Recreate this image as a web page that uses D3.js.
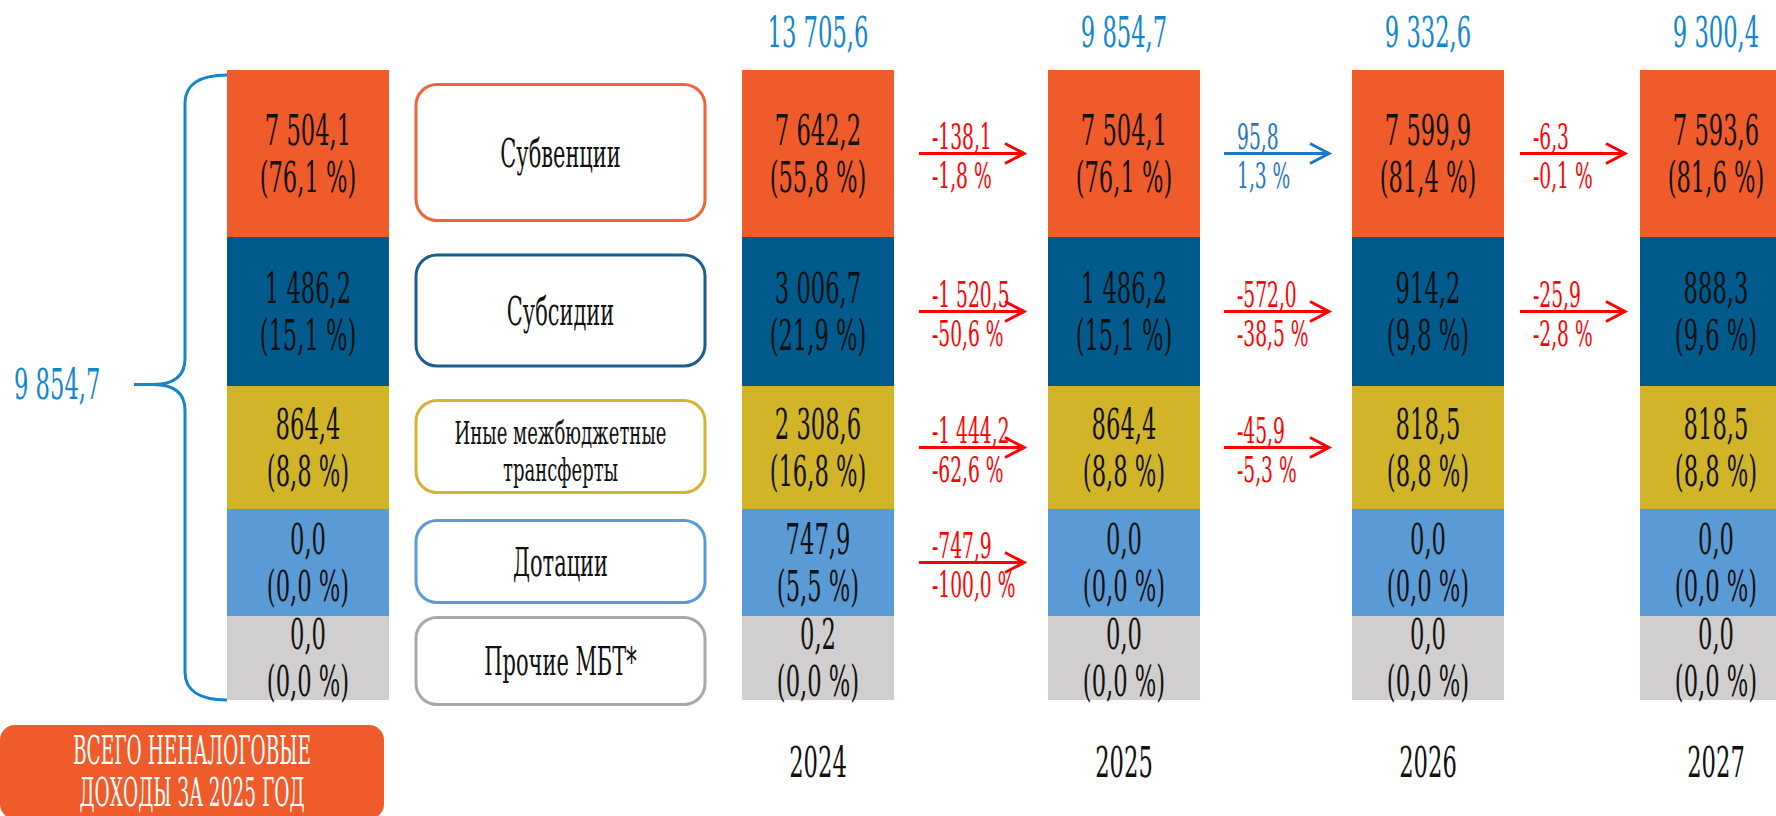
<!DOCTYPE html>
<html lang="ru">
<head>
<meta charset="utf-8">
<title>Межбюджетные трансферты</title>
<script src="https://cdn.jsdelivr.net/npm/d3@7"></script>
<style>
  html, body { margin: 0; padding: 0; background: #fff; overflow: hidden; }
  svg { display: block; }
  text { font-family: "DejaVu Serif Condensed", "DejaVu Serif", serif; font-stretch: condensed; }
</style>
</head>
<body>
<svg id="chart"></svg>
<script>
// ---- data ----
const years = ["2024", "2025", "2026", "2027"];
const categories = ["Субвенции", "Субсидии", "Иные межбюджетные трансферты", "Дотации", "Прочие МБТ*"];
const totals = [13705.6, 9854.7, 9332.6, 9300.4];

const subvencii = [7642.2, 7504.1, 7599.9, 7593.6];
const subsidii = [3006.7, 1486.2, 914.2, 888.3];
const inye = [2308.6, 864.4, 818.5, 818.5];
const dotacii = [747.9, 0.0, 0.0, 0.0];
const prochie = [0.2, 0.0, 0.0, 0.0];

const subvShare = [55.8, 76.1, 81.4, 81.6];
const subsShare = [21.9, 15.1, 9.8, 9.6];
const inyeShare = [16.8, 8.8, 8.8, 8.8];
const dotShare = [5.5, 0.0, 0.0, 0.0];
const prochShare = [0.0, 0.0, 0.0, 0.0];

// year-to-year changes, one list per step, in category order
const changeAbs = [[-138.1, -1520.5, -1444.2, -747.9], [95.8, -572.0, -45.9], [-6.3, -25.9]];
const changePct = [[-1.8, -50.6, -62.6, -100.0], [1.3, -38.5, -5.3], [-0.1, -2.8]];

const summaryYear = "2025";
const boxLines = [["Субвенции"], ["Субсидии"], ["Иные межбюджетные", "трансферты"], ["Дотации"], ["Прочие МБТ*"]];
const badgeLines = ["ВСЕГО НЕНАЛОГОВЫЕ", "ДОХОДЫ ЗА 2025 ГОД"];

// ---- layout ----
const W = 1776, H = 816;
const fills = ["#ef5b2a", "#005a8c", "#d2b428", "#5b9bd5", "#d0cece"];
const strokes = ["#f0643a", "#1b5e8a", "#d3b32f", "#5b9bd5", "#a8a8a8"];
const blueText = "#1487cb", upColor = "#1f78c1", downColor = "#ff0000";
const rowWeights = [167, 149, 123, 107, 84];
const boxH = [136, 111, 92, 82, 87];
const barLefts = [742, 1048, 1352, 1640];
const barW = 152;

const series = [subvencii, subsidii, inye, dotacii, prochie];
const shares = [subvShare, subsShare, inyeShare, dotShare, prochShare];

const ru = d3.formatLocale({ decimal: ",", thousands: " ", grouping: [3], currency: ["", ""], minus: "-" });
const fmt = ru.format(",.1f");

const svg = d3.select("#chart").attr("width", W).attr("height", H);

// the original face is tall and very narrow: squeeze DejaVu horizontally
const probe = svg.append("text").attr("font-size", 100).text("0000000000");
const digitEm = probe.node().getComputedTextLength() / 1000;
probe.remove();
const tall = 1.08;
const squeeze = 0.36 / digitEm / tall;

function label(g, x, y, str, size, fill, anchor = "middle", wf = 1) {
	return g.append("text")
		.attr("transform", `translate(${x},${y}) scale(${squeeze * wf},1)`)
		.attr("text-anchor", anchor)
		.attr("font-size", size * tall)
		.attr("fill", fill)
		.text(str);
}

const edges = [0, ...d3.cumsum(rowWeights)];
const yScale = d3.scaleLinear().domain([0, d3.sum(rowWeights)]).range([70, 700]);
const rowTop = (i) => yScale(edges[i]);
const rowBot = (i) => yScale(edges[i + 1]);
const rowMid = (i) => (rowTop(i) + rowBot(i)) / 2;

const xScale = d3.scaleOrdinal().domain(years).range(barLefts);
const xMid = (yr) => xScale(yr) + barW / 2;

const cells = [];
years.forEach((yr, j) => {
	categories.forEach((c, i) => {
		cells.push({ year: yr, cat: i, value: series[i][j], share: shares[i][j] });
	});
});

// ---- stacked columns ----
const barsG = svg.append("g");
barsG.selectAll("rect")
	.data(cells)
	.enter()
	.append("rect")
	.attr("x", (d) => xScale(d.year))
	.attr("y", (d) => rowTop(d.cat))
	.attr("width", barW)
	.attr("height", (d) => rowBot(d.cat) - rowTop(d.cat))
	.attr("fill", (d) => fills[d.cat]);

cells.forEach((d) => {
	label(barsG, xMid(d.year), rowMid(d.cat) - 9, fmt(d.value), 40, "#111");
	label(barsG, xMid(d.year), rowMid(d.cat) + 38, "(" + fmt(d.share) + " %)", 40, "#111");
});

// totals and years
years.forEach((yr, j) => {
	label(svg, xMid(yr), 47, fmt(totals[j]), 40, blueText);
	label(svg, xMid(yr), 777, yr, 40, "#111");
});

// ---- summary column on the left ----
const sj = years.indexOf(summaryYear);
const sumX = 227, sumW = 162;
const sumG = svg.append("g");
categories.forEach((c, i) => {
	sumG.append("rect")
		.attr("x", sumX)
		.attr("y", rowTop(i))
		.attr("width", sumW)
		.attr("height", rowBot(i) - rowTop(i))
		.attr("fill", fills[i]);
	label(sumG, sumX + sumW / 2, rowMid(i) - 9, fmt(series[i][sj]), 40, "#111");
	label(sumG, sumX + sumW / 2, rowMid(i) + 38, "(" + fmt(shares[i][sj]) + " %)", 40, "#111");
});

// brace
const braceTop = rowTop(0) + 5, braceBot = rowBot(categories.length - 1), braceMid = (braceTop + braceBot) / 2 - 3;
const bx = 185;
const p = d3.path();
p.moveTo(sumX, braceTop);
p.bezierCurveTo(bx + 14, braceTop, bx, braceTop + 10, bx, braceTop + 28);
p.lineTo(bx, braceMid - 26);
p.bezierCurveTo(bx, braceMid - 8, bx - 12, braceMid, bx - 32, braceMid);
p.lineTo(bx - 51, braceMid);
p.moveTo(bx - 32, braceMid);
p.bezierCurveTo(bx - 12, braceMid, bx, braceMid + 8, bx, braceMid + 26);
p.lineTo(bx, braceBot - 28);
p.bezierCurveTo(bx, braceBot - 10, bx + 14, braceBot, sumX, braceBot);
svg.append("path")
	.attr("d", p.toString())
	.attr("fill", "none")
	.attr("stroke", blueText)
	.attr("stroke-width", 3);
label(svg, 14, braceMid + 14, fmt(totals[sj]), 40, blueText, "start");

// ---- category boxes ----
const boxX = 416, boxW = 289;
const boxG = svg.append("g");
categories.forEach((c, i) => {
	const cy = rowMid(i) + (i === 4 ? 3 : -1);
	boxG.append("rect")
		.attr("x", boxX)
		.attr("y", cy - boxH[i] / 2)
		.attr("width", boxW)
		.attr("height", boxH[i])
		.attr("rx", 21)
		.attr("fill", "#fff")
		.attr("stroke", strokes[i])
		.attr("stroke-width", 3);
	const lines = boxLines[i];
	if (lines.length === 1) {
		label(boxG, boxX + boxW / 2, cy + 14, lines[0], 37, "#111");
	} else {
		label(boxG, boxX + boxW / 2, cy - 3, lines[0], 29, "#111", "middle", 1.1);
		label(boxG, boxX + boxW / 2, cy + 34, lines[1], 29, "#111", "middle", 1.1);
	}
});

// ---- change arrows ----
const arrowG = svg.append("g");
changeAbs.forEach((list, t) => {
	const cx = (xScale(years[t]) + barW + xScale(years[t + 1])) / 2;
	const x0 = cx - 52, x1 = cx + 53;
	list.forEach((v, r) => {
		const y = rowMid(r);
		const col = v >= 0 ? upColor : downColor;
		arrowG.append("path")
			.attr("d", `M${x0},${y}H${x1}M${x1 - 19},${y - 10}L${x1},${y}L${x1 - 19},${y + 10}`)
			.attr("fill", "none")
			.attr("stroke", col)
			.attr("stroke-width", 3);
		label(arrowG, x0 + 13, y - 5, fmt(v), 33, col, "start");
		label(arrowG, x0 + 13, y + 34, fmt(changePct[t][r]) + " %", 33, col, "start");
	});
});

// ---- badge ----
svg.append("rect")
	.attr("x", 0)
	.attr("y", 725)
	.attr("width", 384)
	.attr("height", 94)
	.attr("rx", 15)
	.attr("fill", "#ef5b2a");
label(svg, 192, 764, badgeLines[0], 36, "#fff", "middle", 0.91);
label(svg, 192, 806, badgeLines[1], 36, "#fff", "middle", 0.91);
</script>
</body>
</html>
